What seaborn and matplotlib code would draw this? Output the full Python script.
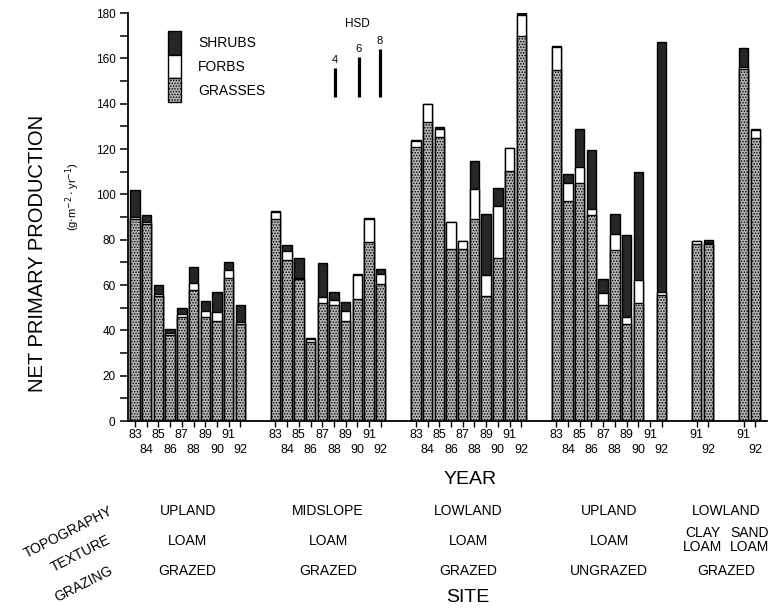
import numpy as np
import pandas as pd
import matplotlib
matplotlib.use("Agg")
import matplotlib.pyplot as plt
import matplotlib.transforms as mtransforms
from matplotlib.patches import Patch
from matplotlib.ticker import MultipleLocator
import seaborn as sns

# ---------------- data (g m-2 yr-1) ----------------
years = ["83", "84", "85", "86", "87", "88", "89", "90", "91", "92"]

s1_grass = [89, 87, 55, 38, 46, 58, 46, 44, 63, 43]
s1_forbs = [1, 1, 1, 1, 1, 3, 2.5, 4, 3.5, 0.5]
s1_shrubs = [12, 3, 4, 1.5, 3, 7, 4.5, 9, 3.5, 7.5]

s2_grass = [89, 71, 62.5, 35, 52, 51, 44, 54, 79, 60.5]
s2_forbs = [3, 4, 0.5, 1, 2.5, 2.5, 4.5, 10.5, 10, 4.5]
s2_shrubs = [0.5, 2.5, 9, 0.5, 15, 3.5, 4, 0.5, 0.5, 2]

s3_grass = [121, 132, 125.5, 76, 76, 89, 55, 72, 110.5, 170]
s3_forbs = [2.5, 8, 3.5, 12, 3.5, 13.5, 9.5, 23, 10, 9]
s3_shrubs = [0.5, 0, 0.5, 0, 0, 12, 27, 8, 0, 1]

s4_grass = [155, 97, 105, 91, 51, 75.5, 43, 52, np.nan, 55.5]
s4_forbs = [10, 8, 7, 2.5, 5.5, 7, 3, 10, np.nan, 1.5]
s4_shrubs = [0.5, 4, 17, 26, 6, 9, 36, 48, np.nan, 110]

s5_years = ["91", "92", "91", "92"]
s5_grass = [78, 78, 155.5, 125]
s5_forbs = [1.5, 0.5, 0.5, 3.5]
s5_shrubs = [0, 1.5, 8.5, 0.5]

topography = ["UPLAND", "MIDSLOPE", "LOWLAND", "UPLAND", "LOWLAND"]
texture = ["LOAM", "LOAM", "LOAM", "LOAM"]
texture_s5 = ["CLAY\nLOAM", "SAND\nLOAM"]
grazing = ["GRAZED", "GRAZED", "GRAZED", "UNGRAZED", "GRAZED"]

hsd_values = [4, 6, 8]
hsd_lengths = [12.8, 17.6, 21.2]

# ---------------- layout positions ----------------
site_starts = [0, 12, 24, 36]
s5_slots = [48, 49, 52, 53]
hsd_x = [17.1, 19.1, 20.9]
hsd_base = 142.9

rows = []
for start, g, f, s in zip(site_starts,
                          [s1_grass, s2_grass, s3_grass, s4_grass],
                          [s1_forbs, s2_forbs, s3_forbs, s4_forbs],
                          [s1_shrubs, s2_shrubs, s3_shrubs, s4_shrubs]):
    for j, yr in enumerate(years):
        rows.append(dict(slot=start + j, year=yr, grass=g[j], forbs=f[j], shrubs=s[j]))
for k, yr in enumerate(s5_years):
    rows.append(dict(slot=s5_slots[k], year=yr, grass=s5_grass[k], forbs=s5_forbs[k], shrubs=s5_shrubs[k]))
ticks_df = pd.DataFrame(rows)
df = ticks_df.dropna().reset_index(drop=True)
df["gf"] = df["grass"] + df["forbs"]
df["total"] = df["gf"] + df["shrubs"]

# ---------------- figure ----------------
sns.set_theme(style="ticks")
plt.rcParams["font.family"] = ["Liberation Sans", "DejaVu Sans"]
for k in ["text.color", "axes.labelcolor", "xtick.color", "ytick.color", "axes.edgecolor"]:
    plt.rcParams[k] = "black"
plt.rcParams["hatch.linewidth"] = 0.7

W, H = 777, 609
fig = plt.figure(figsize=(W / 100, H / 100), dpi=100)
ax = fig.add_axes([128 / W, 1 - 421 / H, (767 - 128) / W, 408 / H])

shrub_c = "#262626"
grass_c = "#b4b4b4"
common = dict(data=df, x="slot", native_scale=True, width=0.8, saturation=1,
              errorbar=None, edgecolor="black", linewidth=1.0, ax=ax)
sns.barplot(y="total", color=shrub_c, **common)
sns.barplot(y="gf", color="white", **common)
sns.barplot(y="grass", color=grass_c, hatch="......", **common)

ax.set_xlim(-0.6, 54.0)
ax.set_ylim(0, 180)
ax.set_xlabel("")
ax.set_ylabel("")
for sp in ["top", "right"]:
    ax.spines[sp].set_visible(False)
for sp in ["left", "bottom"]:
    ax.spines[sp].set_linewidth(1.3)

# x ticks: odd years on first row (major), even years on second row (minor)
odd = ticks_df[ticks_df["year"].astype(int) % 2 == 1]
even = ticks_df[ticks_df["year"].astype(int) % 2 == 0]
ax.set_xticks(odd["slot"])
ax.set_xticklabels(odd["year"])
ax.set_xticks(even["slot"], minor=True)
ax.set_xticklabels(even["year"], minor=True)
ax.tick_params(axis="x", which="both", length=4, width=1, direction="out",
               labelsize=9, bottom=True)
ax.tick_params(axis="x", which="major", pad=2)
ax.tick_params(axis="x", which="minor", pad=12.5)

ax.set_yticks(range(0, 181, 20))
ax.yaxis.set_minor_locator(MultipleLocator(10))
ax.tick_params(axis="y", which="both", length=6, width=1.1, direction="out", left=True)
ax.tick_params(axis="y", labelsize=8.5, pad=3)

# legend
handles = [Patch(facecolor=shrub_c, edgecolor="black", linewidth=1.0),
           Patch(facecolor="white", edgecolor="black", linewidth=1.0),
           Patch(facecolor=grass_c, edgecolor="black", linewidth=1.0, hatch="......")]
ax.legend(handles, ["SHRUBS", "FORBS", "GRASSES"], loc="upper left",
          bbox_to_anchor=(168 / W, 1 - 31 / H), bbox_transform=fig.transFigure,
          frameon=False, borderpad=0, borderaxespad=0, labelspacing=0,
          handlelength=0.95, handleheight=2.25, handletextpad=1.2, fontsize=10)

# HSD bars
for x, v, ln in zip(hsd_x, hsd_values, hsd_lengths):
    ax.vlines(x, hsd_base, hsd_base + ln, colors="black", linewidth=2.3)
    ax.text(x, hsd_base + ln + 1.5, str(v), ha="center", va="bottom", fontsize=8)
ax.text(np.mean(hsd_x), 175, "HSD", ha="center", va="center", fontsize=8.5)

# axis labels
fig.text(38 / W, 1 - 253 / H, "NET PRIMARY PRODUCTION", rotation=90,
         ha="center", va="center", fontsize=14.5)
fig.text(73 / W, 1 - 197 / H, r"(g$\cdot$m$^{-2}\cdot$yr$^{-1}$)", rotation=90,
         ha="center", va="center", fontsize=8)
fig.text(470 / W, 1 - 480 / H, "YEAR", ha="center", va="center", fontsize=14)
fig.text(468 / W, 1 - 598 / H, "SITE", ha="center", va="center", fontsize=14)

# site descriptors
trans = mtransforms.blended_transform_factory(ax.transData, fig.transFigure)
centers = [start + 4.5 for start in site_starts] + [np.mean(s5_slots)]
for i, cx in enumerate(centers):
    fig.text(cx, 1 - 511 / H, topography[i], transform=trans, ha="center", va="center", fontsize=10)
    fig.text(cx, 1 - 571 / H, grazing[i], transform=trans, ha="center", va="center", fontsize=10)
    if i < 4:
        fig.text(cx, 1 - 541 / H, texture[i], transform=trans, ha="center", va="center", fontsize=10)
for txt, cx in zip(texture_s5, [np.mean(s5_slots[:2]), np.mean(s5_slots[2:])]):
    fig.text(cx, 1 - 540 / H, txt, transform=trans, ha="center", va="center",
             fontsize=10, linespacing=1.0)

for txt, (px, py) in zip(["TOPOGRAPHY", "TEXTURE", "GRAZING"],
                         [(68, 532), (81, 554), (84, 584)]):
    fig.text(px / W, 1 - py / H, txt, rotation=27, rotation_mode="anchor",
             ha="center", va="center", fontsize=10)

fig.savefig("out.png", dpi=100)
